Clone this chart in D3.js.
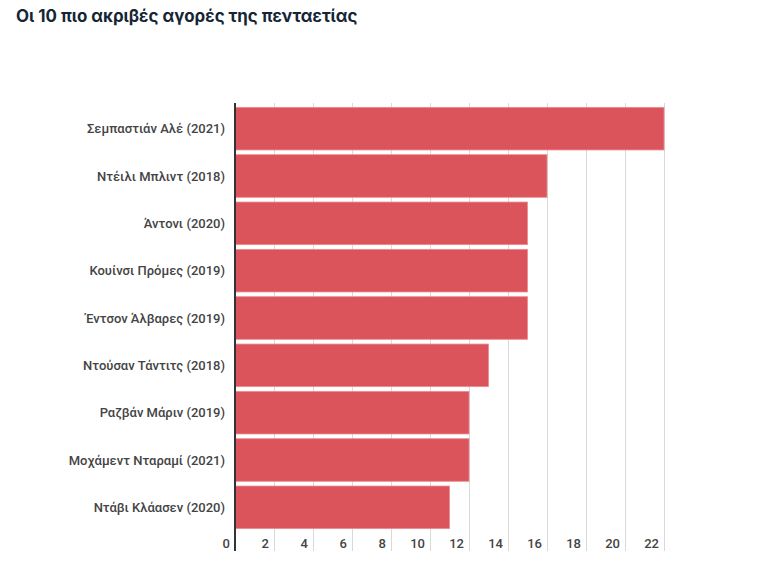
<!DOCTYPE html>
<html><head><meta charset="utf-8">
<script src="https://cdn.jsdelivr.net/npm/d3@7"></script>
<style>body{margin:0;background:#fff}svg{display:block}</style>
</head><body>
<svg id="chart" width="783" height="567"></svg>
<script>
const title = "Οι 10 πιο ακριβές αγορές της πενταετίας";
const categories = ["Σεμπαστιάν Αλέ (2021)","Ντέιλι Μπλιντ (2018)","Άντονι (2020)","Κουίνσι Πρόμες (2019)","Έντσον Άλβαρες (2019)","Ντούσαν Τάντιτς (2018)","Ραζβάν Μάριν (2019)","Μοχάμεντ Νταραμί (2021)","Ντάβι Κλάασεν (2020)"];
const values = [22, 16, 15, 15, 15, 13, 12, 12, 11];
const ticks = [0,2,4,6,8,10,12,14,16,18,20,22];

const svg = d3.select("#chart");
const x = d3.scaleLinear().domain([0,22]).range([235,664]);
const y = d3.scaleBand().domain(categories).range([105,531]).paddingInner(0.1).paddingOuter(0.05);

svg.append("text").attr("x",16).attr("y",22)
  .attr("font-family","Inter, 'Noto Sans', sans-serif").attr("font-weight",700)
  .attr("font-size",16.9).attr("fill","#152536").text(title);

// grid
svg.append("g").selectAll("line").data(ticks.slice(1)).join("line")
  .attr("x1",d=>x(d)+0.5).attr("x2",d=>x(d)+0.5).attr("y1",103).attr("y2",551)
  .attr("stroke","#d9d9d9").attr("stroke-width",1);

// bars
svg.append("g").selectAll("rect").data(values).join("rect")
  .attr("x",x(0)).attr("y",(d,i)=>y(categories[i]))
  .attr("width",d=>x(d)-x(0)).attr("height",y.bandwidth())
  .attr("fill","#dc545b").attr("stroke","#e98d91").attr("stroke-width",0.8);

// axis line
svg.append("line").attr("x1",x(0)).attr("x2",x(0)).attr("y1",103).attr("y2",551)
  .attr("stroke","#333").attr("stroke-width",2);

// category labels
svg.append("g").selectAll("text").data(categories).join("text")
  .attr("x",225).attr("y",d=>y(d)+y.bandwidth()/2).attr("dy","0.35em")
  .attr("text-anchor","end").attr("font-family","Roboto, sans-serif").attr("font-weight",500)
  .attr("font-size",13).attr("fill","#444").text(d=>d);

// tick labels
svg.append("g").selectAll("text").data(ticks).join("text")
  .attr("x",d=>x(d)-5).attr("y",548).attr("text-anchor","end")
  .attr("font-family","Roboto, sans-serif").attr("font-weight",500).attr("font-size",13).attr("fill","#444").text(d=>d);
</script>
</body></html>
